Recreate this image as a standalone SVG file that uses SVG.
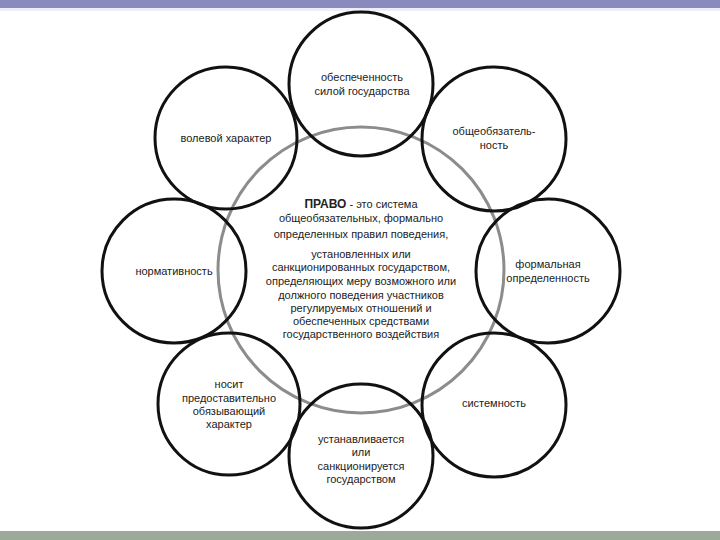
<svg xmlns="http://www.w3.org/2000/svg" width="720" height="540" viewBox="0 0 720 540">
<style>
.c{fill:none;stroke:#111;stroke-width:3}
.g{fill:none;stroke:#8c8c8c;stroke-width:3}
text{font-family:"Liberation Sans",Arial,sans-serif;font-size:11px;fill:#222;text-anchor:middle}
</style>
<rect x="0" y="0" width="720" height="540" fill="#fff"/>
<rect x="0" y="0" width="720" height="8" fill="#8a8abc"/>
<rect x="0" y="8" width="720" height="3" fill="#eeeef8"/>
<rect x="0" y="531" width="720" height="9" fill="#9caa9a"/>
<g id="center">
<circle class="g" cx="361" cy="270" r="143"/>
<text x="361" y="208"><tspan font-weight="bold" font-size="12">ПРАВО</tspan> - это система</text>
<text x="361" y="222">общеобязательных, формально</text>
<text x="361" y="238">определенных правил поведения,</text>
<text x="361" y="258">установленных или</text>
<text x="361" y="271">санкционированных государством,</text>
<text x="361" y="285">определяющих меру возможного или</text>
<text x="361" y="299">должного поведения участников</text>
<text x="361" y="312">регулируемых отношений и</text>
<text x="361" y="325">обеспеченных средствами</text>
<text x="361" y="338">государственного воздействия</text>
</g>
<g id="n-top">
<circle class="c" cx="361" cy="84" r="72"/>
<text x="362" y="81">обеспеченность</text>
<text x="362" y="95">силой государства</text>
</g>
<g id="n-topleft">
<circle class="c" cx="226" cy="138" r="71"/>
<text x="226" y="142">волевой характер</text>
</g>
<g id="n-topright">
<circle class="c" cx="494" cy="139" r="72"/>
<text x="494" y="135">общеобязатель-</text>
<text x="494" y="149">ность</text>
</g>
<g id="n-left">
<circle class="c" cx="174" cy="271" r="72"/>
<text x="174" y="275">нормативность</text>
</g>
<g id="n-right">
<circle class="c" cx="548" cy="271" r="72"/>
<text x="548" y="268">формальная</text>
<text x="548" y="282">определенность</text>
</g>
<g id="n-bottomleft">
<circle class="c" cx="229" cy="404" r="71"/>
<text x="229" y="388">носит</text>
<text x="229" y="402">предоставительно</text>
<text x="229" y="415">обязывающий</text>
<text x="229" y="428">характер</text>
</g>
<g id="n-bottomright">
<circle class="c" cx="494" cy="405" r="72"/>
<text x="494" y="407">системность</text>
</g>
<g id="n-bottom">
<circle class="c" cx="361" cy="456" r="72"/>
<text x="361" y="443">устанавливается</text>
<text x="361" y="456">или</text>
<text x="361" y="470">санкционируется</text>
<text x="361" y="483">государством</text>
</g>
<g id="connectors"/>
</svg>
